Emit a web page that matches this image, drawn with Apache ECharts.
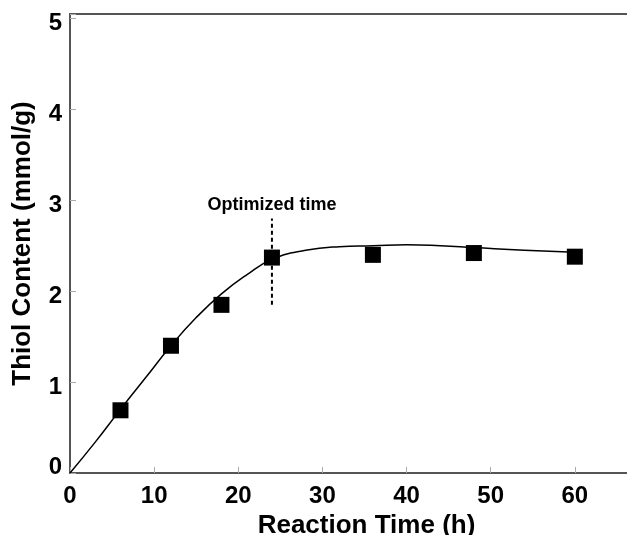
<!doctype html>
<html>

<head>
	<meta charset="utf-8">
	<title>Thiol content vs reaction time</title>
	<script src="https://cdn.jsdelivr.net/npm/echarts@6/dist/echarts.min.js"></script>
</head>
<style>
	html,
	body {
		margin: 0;
		padding: 0;
		background: #fff;
	}

	#main {
		width: 627px;
		height: 535px;
	}
</style>
<body>
	<div id="main"></div>

	<script>
		// measured points (squares)
		var timeH = [6, 12, 18, 24, 36, 48, 60]
		var thiol = [0.69, 1.40, 1.85, 2.37, 2.40, 2.42, 2.38]
		// fitted curve
		var fitX = [0, 3, 6, 9, 12, 15, 18, 21, 24, 28, 32, 36, 40, 44, 48, 54, 60]
		var fitY = [0, 0.34, 0.70, 1.05, 1.40, 1.71, 1.97, 2.18, 2.35, 2.45, 2.49, 2.50, 2.51, 2.50, 2.48, 2.45, 2.43]
		// dashed marker for the optimized time
		var optX = [24, 24]
		var optY = [1.85, 2.80]
		var optLabel = 'Optimized time'

		var xMax = 66.2
		var yMax = 5.05
		var font = 'Liberation Sans, Arial, sans-serif'

		function pairs(xs, ys) {
			return xs.map(function (x, i) { return [x, ys[i]] })
		}
		function intOnly(v) {
			return Math.abs(v - Math.round(v)) < 1e-6 ? String(Math.round(v)) : ''
		}
		// y labels in the original sit a little below their ticks, except 0
		function yLabel(v) {
			var s = intOnly(v)
			if (!s) return ''
			return s === '0' ? '{z|0}' : '{a|' + s + '}'
		}

		var chart = echarts.init(document.getElementById('main'))
		var tickFont = { fontFamily: font, fontWeight: 'bold', fontSize: 24, color: '#000' }
		var option = {
			animation: false,
			backgroundColor: '#fff',
			grid: { left: 70, right: 0, top: 14, bottom: 62, containLabel: false, outerBoundsMode: 'none' },
			xAxis: [
				{
					type: 'value',
					min: 0,
					max: xMax,
					interval: 10,
					name: 'Reaction Time (h)',
					nameLocation: 'middle',
					nameGap: 35,
					nameTextStyle: { fontFamily: font, fontWeight: 'bold', fontSize: 26, color: '#000', padding: [0, 0, 0, 36] },
					axisLine: { lineStyle: { color: '#555', width: 2 } },
					axisTick: { inside: true, length: 6, lineStyle: { color: '#aaa', width: 1 } },
					axisLabel: Object.assign({ margin: 11, formatter: intOnly }, tickFont),
					splitLine: { show: false }
				},
				{
					type: 'value',
					position: 'top',
					min: 0,
					max: xMax,
					axisLine: { show: true, lineStyle: { color: '#555', width: 2 } },
					axisTick: { show: false },
					axisLabel: { show: false },
					splitLine: { show: false }
				}
			],
			yAxis: {
				type: 'value',
				min: 0,
				max: yMax,
				interval: 1,
				name: 'Thiol Content (mmol/g)',
				nameLocation: 'middle',
				nameGap: 34,
				nameTextStyle: { fontFamily: font, fontWeight: 'bold', fontSize: 26, color: '#000' },
				axisLine: { show: true, lineStyle: { color: '#555', width: 2 } },
				axisTick: { show: true, inside: true, length: 6, lineStyle: { color: '#aaa', width: 1 } },
				axisLabel: Object.assign({
					margin: 8,
					formatter: yLabel,
					rich: {
						a: Object.assign({ padding: [10, 0, 0, 0] }, tickFont),
						z: Object.assign({ padding: [0, 0, 12, 0] }, tickFont)
					}
				}, tickFont),
				splitLine: { show: false }
			},
			series: [
				{
					type: 'line',
					data: pairs(fitX, fitY),
					smooth: true,
					showSymbol: false,
					lineStyle: { color: '#000', width: 1.5 },
					z: 2
				},
				{
					type: 'line',
					data: pairs(optX, optY),
					showSymbol: false,
					lineStyle: { color: '#000', width: 2, type: [4, 3] },
					endLabel: {
						show: true,
						formatter: optLabel,
						fontFamily: font,
						fontWeight: 'bold',
						fontSize: 18,
						color: '#000',
						align: 'center',
						verticalAlign: 'bottom',
						offset: [-8, -4]
					},
					z: 3
				},
				{
					type: 'scatter',
					data: pairs(timeH, thiol),
					symbol: 'rect',
					symbolSize: 16,
					itemStyle: { color: '#000', opacity: 1 },
					z: 4
				}
			]
		}
		chart.setOption(option)
	</script>
</body>

</html>
